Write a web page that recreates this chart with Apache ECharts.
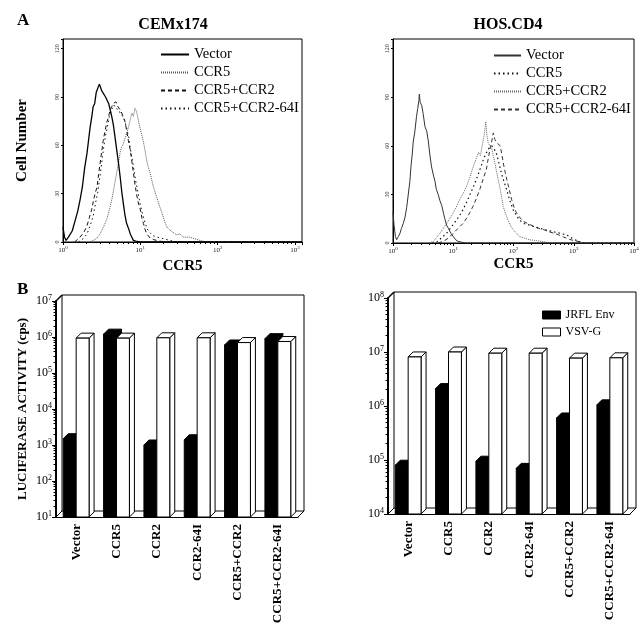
<!DOCTYPE html>
<html><head><meta charset="utf-8">
<script src="https://cdn.jsdelivr.net/npm/echarts@6/dist/echarts.min.js"></script>
<style>html,body{margin:0;padding:0;background:#fff}#c{width:644px;height:634px}</style>
</head><body><div id="c"></div>
<script>
// ---------- Panel A: flow cytometry histograms ([log10 CCR5 intensity, cell count]) ----------
const histLabels = ['Vector', 'CCR5', 'CCR5+CCR2', 'CCR5+CCR2-64I'];

const cemVector = [[0.00,9],[0.02,3],[0.04,1],[0.07,3],[0.09,4],[0.12,7],[0.155,13],[0.19,19],[0.22,26],[0.25,34],[0.28,46],[0.31,55],[0.33,63],[0.35,71],[0.37,77],[0.39,84],[0.41,86],[0.43,93],[0.45,92],[0.47,98],[0.48,99],[0.50,94],[0.52,95],[0.55,90],[0.57,88],[0.59,86],[0.61,82],[0.63,78],[0.65,73],[0.67,66],[0.695,57],[0.72,48],[0.74,40],[0.76,31],[0.78,24],[0.80,17],[0.82,12],[0.85,8],[0.87,5],[0.89,3],[0.91,1],[0.94,0.5],[1.0,0],[3.09,0]];
const cemCCR5 = [[0.35,0],[0.39,1],[0.43,2],[0.48,5],[0.52,9],[0.565,14],[0.60,20],[0.63,26],[0.66,34],[0.695,43],[0.72,50],[0.74,56],[0.76,59],[0.78,61],[0.80,64],[0.82,67],[0.845,71],[0.87,76],[0.89,80],[0.91,78],[0.93,83],[0.95,81],[0.96,79],[0.98,74],[1.00,70],[1.02,66],[1.04,62],[1.06,57],[1.08,51],[1.10,47],[1.125,43],[1.15,38],[1.17,34],[1.19,31],[1.21,28],[1.23,25],[1.25,22],[1.28,18],[1.30,15],[1.32,12],[1.34,9.5],[1.38,7.5],[1.42,6],[1.47,4.5],[1.51,5],[1.56,3],[1.64,3],[1.70,2],[1.77,1],[1.85,0],[3.09,0]];
const cemCCR5CCR2 = [[0.15,0],[0.22,3],[0.27,6],[0.31,10],[0.34,15],[0.37,20],[0.40,27],[0.42,31],[0.44,34],[0.46,42],[0.48,49],[0.50,56],[0.52,63],[0.54,68],[0.565,74],[0.59,78],[0.61,82],[0.63,84],[0.65,86],[0.665,85],[0.685,87],[0.71,84],[0.74,82],[0.76,80],[0.78,79],[0.80,75],[0.82,70],[0.845,63],[0.87,57],[0.89,50],[0.91,43],[0.93,36],[0.95,30],[0.97,25],[1.00,20],[1.02,15],[1.04,11.5],[1.06,8],[1.08,5.5],[1.10,4],[1.125,2.5],[1.17,1.5],[1.25,0.5],[1.35,0],[3.09,0]];
const cemCCR5CCR264I = [[0.20,0],[0.26,2],[0.31,5],[0.35,10],[0.39,16],[0.42,24],[0.45,31],[0.47,38],[0.49,45],[0.51,53],[0.53,60],[0.55,66],[0.58,73],[0.60,78],[0.62,81],[0.64,83],[0.66,85],[0.68,83],[0.70,84],[0.72,82],[0.74,80],[0.77,78],[0.80,75],[0.82,71],[0.85,65],[0.87,58],[0.90,50],[0.92,44],[0.94,38],[0.96,33],[0.98,28],[1.00,23],[1.03,17],[1.06,12],[1.09,8],[1.12,6],[1.16,4],[1.22,3],[1.30,2],[1.38,1],[1.48,0],[3.09,0]];

const hosVector = [[0.00,19],[0.017,11],[0.04,4],[0.06,2],[0.09,4],[0.116,6],[0.14,9],[0.17,12],[0.20,16],[0.227,22],[0.25,29],[0.28,38],[0.30,48],[0.32,55],[0.337,63],[0.36,68],[0.39,78],[0.41,83],[0.43,88],[0.437,92],[0.45,87],[0.476,85],[0.50,80],[0.53,72],[0.56,69],[0.586,63],[0.61,55],[0.64,47],[0.67,42],[0.697,38],[0.72,33],[0.75,30],[0.78,26],[0.81,23],[0.84,18],[0.86,15],[0.89,11],[0.92,9],[0.96,6],[1.00,4],[1.04,2],[1.08,1],[1.14,0.5],[1.2,0],[4,0]];
const hosCCR5 = [[0.65,0],[0.725,0.5],[0.80,3],[0.89,6],[0.97,10],[1.06,14.5],[1.14,19],[1.22,25],[1.29,31],[1.36,37],[1.43,44],[1.50,51.5],[1.54,55],[1.58,58],[1.61,57],[1.64,60],[1.68,58],[1.72,55],[1.76,49],[1.80,43],[1.85,37],[1.89,32.5],[1.94,26],[2.00,20],[2.05,17],[2.10,14],[2.18,12],[2.27,11],[2.35,10],[2.44,9],[2.55,8],[2.66,7],[2.77,6],[2.88,5],[2.97,3],[3.05,1.5],[3.15,0],[4,0]];
const hosCCR5CCR2 = [[0.60,0],[0.67,1],[0.78,6],[0.89,12],[1.00,18.5],[1.06,23],[1.11,27],[1.17,31],[1.22,35],[1.28,41],[1.33,47],[1.38,52],[1.42,56],[1.45,54],[1.48,60],[1.51,66],[1.54,75],[1.56,66],[1.58,62],[1.61,61],[1.64,58],[1.67,53],[1.69,49.5],[1.73,42],[1.78,33],[1.83,22.5],[1.87,18],[1.91,14],[1.96,10],[2.00,8],[2.05,6],[2.10,4],[2.18,3],[2.27,2],[2.38,1.5],[2.50,0.8],[2.6,0],[4,0]];
const hosCCR5CCR264I = [[0.75,0],[0.83,1],[0.92,3],[1.00,6],[1.08,9],[1.17,12.4],[1.25,17],[1.33,22.8],[1.39,28],[1.44,33],[1.50,40],[1.55,45.5],[1.58,52],[1.61,58],[1.64,63],[1.665,68],[1.69,64],[1.72,62],[1.75,63],[1.78,60],[1.81,54],[1.83,49.5],[1.86,44],[1.89,39],[1.93,33],[1.97,26.7],[2.01,22],[2.05,18.6],[2.10,16],[2.16,13.4],[2.24,12],[2.33,10.3],[2.42,9],[2.50,8.3],[2.58,7],[2.66,6.2],[2.75,5],[2.83,3.7],[2.91,2.5],[2.99,1.6],[3.1,0.8],[3.2,0],[4,0]];

// ---------- Panel B: luciferase activity (cps) ----------
const categories = ['Vector', 'CCR5', 'CCR2', 'CCR2-64I', 'CCR5+CCR2', 'CCR5+CCR2-64I'];
const cemJRFL = [1500, 1200000, 1000, 1400, 600000, 900000];
const cemVSVG = [930000, 930000, 950000, 950000, 700000, 750000];
const hosJRFL = [80000, 2100000, 95000, 70000, 600000, 1050000];
const hosVSVG = [8100000, 10000000, 9500000, 9500000, 7700000, 7800000];

const SERIF = '"Liberation Serif","DejaVu Serif",serif';

function toLog(arr){ return arr.map(p => [Math.pow(10, p[0]), p[1]]); }
function supLabel(v){
  const e = Math.log10(v), r = Math.round(e);
  if (Math.abs(e - r) > 0.01) return '';
  return '{b|10}{s|' + r + '}';
}

const histStyles = {
  CEM: [
    {color:'#000', width:1.3, type:'solid'},
    {color:'#555', width:1, type:[1,1]},
    {color:'#111', width:1, type:[4,3]},
    {color:'#111', width:1, type:[1.5,3]}
  ],
  HOS: [
    {color:'#333', width:1, type:'solid'},
    {color:'#111', width:1.2, type:[1.5,3]},
    {color:'#666', width:1, type:[1,1]},
    {color:'#333', width:1, type:[4,3]}
  ]
};
const cemCurves = [cemVector, cemCCR5, cemCCR5CCR2, cemCCR5CCR264I];
const hosCurves = [hosVector, hosCCR5, hosCCR5CCR2, hosCCR5CCR264I];

const series = [];
cemCurves.forEach((c, i) => series.push({
  name: 'CEM|' + histLabels[i], type:'line', xAxisIndex:0, yAxisIndex:0,
  data: toLog(c), symbol:'none', lineStyle: histStyles.CEM[i], itemStyle:{color: histStyles.CEM[i].color},
  animation:false, z: 5 - i
}));
hosCurves.forEach((c, i) => series.push({
  name: 'HOS|' + histLabels[i], type:'line', xAxisIndex:1, yAxisIndex:1,
  data: toLog(c), symbol:'none', lineStyle: histStyles.HOS[i], itemStyle:{color: histStyles.HOS[i].color},
  animation:false, z: 5 - i
}));

// 3D frame (back wall + floor) for bar panels
function frameRender(params, api){
  const cs = params.coordSys;
  const L = cs.x, T = cs.y, R = cs.x + cs.width, B = cs.y + cs.height;
  const dx = 6, dy = -6;
  const st = {fill:'none', stroke:'#000', lineWidth:1};
  return {type:'group', children:[
    {type:'polyline', shape:{points:[[L+dx,B+dy],[L+dx,T+dy],[R+dx,T+dy],[R+dx,B+dy],[R,B]]}, style:st},
    {type:'line', shape:{x1:L, y1:T, x2:L+dx, y2:T+dy}, style:{stroke:'#000', lineWidth:1.5}},
    {type:'line', shape:{x1:L, y1:B, x2:L+dx, y2:B+dy}, style:st},
    {type:'line', shape:{x1:L+dx, y1:B+dy, x2:R+dx, y2:B+dy}, style:st}
  ]};
}
function barRender(kind){
  return function(params, api){
    const ci = api.value(0), v = api.value(1);
    const top = api.coord([ci, v]);
    const band = api.size([1, 0])[0];
    const w = band * 0.32;
    const x0 = kind === 'black' ? top[0] - w : top[0];
    const x1 = x0 + w;
    const yT = top[1];
    const yB = params.coordSys.y + params.coordSys.height;
    const dx = 5, dy = -5;
    const fill = kind === 'black' ? '#000' : '#fff';
    const st = {fill:fill, stroke:'#000', lineWidth:1};
    return {type:'group', children:[
      {type:'polygon', shape:{points:[[x1,yT],[x1+dx,yT+dy],[x1+dx,yB+dy],[x1,yB]]}, style:st},
      {type:'polygon', shape:{points:[[x0,yT],[x0+dx,yT+dy],[x1+dx,yT+dy],[x1,yT]]}, style:st},
      {type:'rect', shape:{x:x0, y:yT, width:w, height:yB-yT}, style:st}
    ]};
  };
}
[[2, cemJRFL, cemVSVG], [3, hosJRFL, hosVSVG]].forEach(([ax, jr, vs]) => {
  series.push({type:'custom', name:'frame'+ax, xAxisIndex:ax, yAxisIndex:ax, data:[[0, 1]], renderItem: frameRender, z:1, silent:true, animation:false, clip:false});
  series.push({type:'custom', name:'JRFL Env', xAxisIndex:ax, yAxisIndex:ax, data: jr.map((v,i)=>[i,v]), renderItem: barRender('black'), itemStyle:{color:'#000', borderColor:'#000', borderWidth:1}, z:2, animation:false, clip:false});
  series.push({type:'custom', name:'VSV-G', xAxisIndex:ax, yAxisIndex:ax, data: vs.map((v,i)=>[i,v]), renderItem: barRender('white'), itemStyle:{color:'#fff', borderColor:'#000', borderWidth:1}, z:3, animation:false, clip:false});
});

const histX = (max, gap) => ({
  type:'log', logBase:10, min:1, max:max,
  axisLine:{show:true, lineStyle:{color:'#000', width:1}},
  axisTick:{show:true, length:3, lineStyle:{color:'#000'}},
  minorTick:{show:true, splitNumber:9, length:2, lineStyle:{color:'#000'}},
  splitLine:{show:false},
  axisLabel:{formatter: supLabel, margin:3, color:'#222', fontFamily:SERIF,
    rich:{b:{fontSize:7, fontFamily:SERIF, color:'#222'}, s:{fontSize:5, fontFamily:SERIF, color:'#222', padding:[0,0,5,0]}}},
  name:'CCR5', nameLocation:'middle', nameGap:gap,
  nameTextStyle:{fontFamily:SERIF, fontWeight:'bold', fontSize:15, color:'#000'}
});
const histY = (withName) => ({
  type:'value', min:0, max:126, interval:30,
  axisLine:{show:true, lineStyle:{color:'#000', width:1}},
  axisTick:{show:true, length:2, lineStyle:{color:'#000'}},
  splitLine:{show:false},
  axisLabel:{rotate:90, fontSize:6, margin:3, color:'#333', fontFamily:SERIF,
    formatter: v => (v % 30 === 0 ? String(v) : '')},
  name: withName ? 'Cell Number' : '', nameLocation:'middle', nameGap:33, nameRotate:90,
  nameTextStyle:{fontFamily:SERIF, fontWeight:'bold', fontSize:15, color:'#000'}
});
const barX = {
  type:'category', data: categories,
  axisLine:{show:true, lineStyle:{color:'#000', width:1}},
  axisTick:{show:false},
  axisLabel:{rotate:90, interval:0, margin:7, fontFamily:SERIF, fontWeight:'bold', fontSize:13, color:'#000'}
};
const barY = (min, max, name) => ({
  type:'log', logBase:10, min:min, max:max,
  axisLine:{show:true, lineStyle:{color:'#000', width:2}},
  axisTick:{show:true, length:4, lineStyle:{color:'#000'}},
  minorTick:{show:true, splitNumber:9, length:2.5, lineStyle:{color:'#000'}},
  splitLine:{show:false},
  axisLabel:{formatter: supLabel, margin:4, color:'#000',
    rich:{b:{fontSize:12, fontFamily:SERIF, color:'#000'}, s:{fontSize:8, fontFamily:SERIF, color:'#000', padding:[0,0,7,0]}}},
  name: name, nameLocation:'middle', nameGap:27, nameRotate:90,
  nameTextStyle:{fontFamily:SERIF, fontWeight:'bold', fontSize:13, color:'#000'}
});

const hiddenSymbol = {color:'transparent', borderColor:'transparent', borderWidth:0, opacity:0};

const option = {
  backgroundColor:'#fff',
  animation:false,
  title:[
    {text:'A', left:12, top:7, textStyle:{fontFamily:SERIF, fontWeight:'bold', fontSize:17, color:'#000'}},
    {text:'CEMx174', left:168, top:12, textAlign:'center', textStyle:{fontFamily:SERIF, fontWeight:'bold', fontSize:16, color:'#000'}},
    {text:'HOS.CD4', left:503, top:12, textAlign:'center', textStyle:{fontFamily:SERIF, fontWeight:'bold', fontSize:16, color:'#000'}},
    {text:'B', left:12, top:276, textStyle:{fontFamily:SERIF, fontWeight:'bold', fontSize:17, color:'#000'}}
  ],
  legend:[
    {data: histLabels.map(l => 'CEM|' + l), left:155, top:42, orient:'vertical', itemWidth:28, itemHeight:14, itemGap:3, itemTextGap: 6,
     itemStyle: hiddenSymbol,
     formatter: n => n.split('|')[1], textStyle:{fontFamily:SERIF, fontSize:14.5, color:'#000'}, selectedMode:false},
    {data: histLabels.map(l => 'HOS|' + l), left:488, top:43, orient:'vertical', itemWidth:27, itemHeight:14, itemGap:3, itemTextGap: 8,
     itemStyle: hiddenSymbol,
     formatter: n => n.split('|')[1], textStyle:{fontFamily:SERIF, fontSize:14.5, color:'#000'}, selectedMode:false},
    {data:['JRFL Env','VSV-G'], left:537, top:304, orient:'vertical', itemWidth:18, itemHeight:8, itemGap:5, itemTextGap:10,
     icon:'rect', itemStyle:{borderColor:'#000', borderWidth:1},
     textStyle:{fontFamily:SERIF, fontSize:12, color:'#000'}, selectedMode:false}
  ],
  grid:[
    {left:63, top:39, width:239, height:203, show:true, borderColor:'#000', borderWidth:1, backgroundColor:'transparent'},
    {left:393, top:39, width:241, height:204, show:true, borderColor:'#000', borderWidth:1, backgroundColor:'transparent'},
    {left:56, top:301, width:242, height:216},
    {left:388, top:298, width:242, height:216}
  ],
  xAxis:[
    Object.assign({gridIndex:0}, histX(Math.pow(10, 3.09), 17)),
    Object.assign({gridIndex:1}, histX(10000, 14)),
    Object.assign({gridIndex:2}, barX),
    Object.assign({gridIndex:3}, barX)
  ],
  yAxis:[
    Object.assign({gridIndex:0}, histY(true)),
    Object.assign({gridIndex:1}, histY(false)),
    Object.assign({gridIndex:2}, barY(10, 1e7, 'LUCIFERASE ACTIVITY (cps)')),
    Object.assign({gridIndex:3}, barY(1e4, 1e8, ''))
  ],
  series: series
};
const chart = echarts.init(document.getElementById('c'), null, {renderer:'canvas'});
chart.setOption(option);
</script></body></html>
